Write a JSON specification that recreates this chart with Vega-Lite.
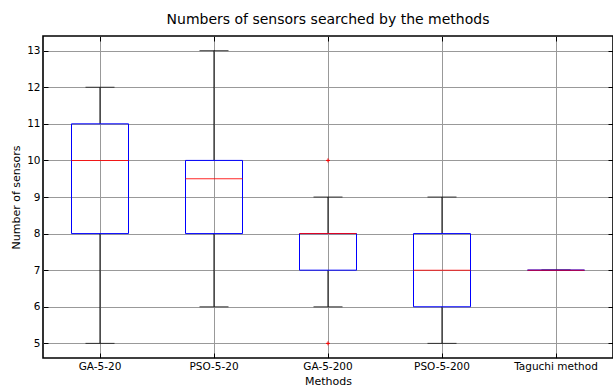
{
  "$schema": "https://vega.github.io/schema/vega-lite/v6.json",
  "width": 570,
  "height": 322,
  "autosize": {"type": "none"},
  "padding": {"left": 43, "top": 36, "right": 0, "bottom": 31},
  "background": "white",
  "title": {"text": "Numbers of sensors searched by the methods", "fontSize": 14, "fontWeight": "normal", "font": "DejaVu Sans", "color": "black", "offset": 9},
  "config": {
    "font": "DejaVu Sans",
    "view": {"stroke": "black", "strokeWidth": 1.6},
    "axis": {"labelFont": "DejaVu Sans", "titleFont": "DejaVu Sans", "labelColor": "black", "titleColor": "black", "labelFontSize": 10.5, "titleFontSize": 11, "titleFontWeight": "normal", "gridColor": "#999999", "gridOpacity": 1, "gridWidth": 1, "tickColor": "black", "domain": false}
  },
  "data": {"values": [
    {"method": "GA-5-20", "lower": 5, "q1": 8, "median": 10, "q3": 11, "upper": 12},
    {"method": "PSO-5-20", "lower": 6, "q1": 8, "median": 9.5, "q3": 10, "upper": 13},
    {"method": "GA-5-200", "lower": 6, "q1": 7, "median": 8, "q3": 8, "upper": 9},
    {"method": "PSO-5-200", "lower": 5, "q1": 6, "median": 7, "q3": 8, "upper": 9},
    {"method": "Taguchi method", "lower": 7, "q1": 7, "median": 7, "q3": 7, "upper": 7}
  ]},
  "layer": [
    {
      "mark": {"type": "rule", "color": "black", "strokeWidth": 1},
      "encoding": {
        "x": {"field": "method", "type": "nominal", "sort": null,
          "scale": {"paddingInner": 0, "paddingOuter": 0},
          "axis": {"title": "Methods", "labelAngle": 0, "bandPosition": 0.5, "grid": true, "tickSize": -5, "labelPadding": 8, "titlePadding": 4}},
        "y": {"field": "lower", "type": "quantitative",
          "scale": {"domain": [4.6, 13.4], "nice": false, "zero": false},
          "axis": {"title": "Number of sensors", "values": [5, 6, 7, 8, 9, 10, 11, 12, 13], "grid": true, "tickSize": -5, "labelPadding": 8, "titlePadding": 5}},
        "y2": {"field": "q1"}
      }
    },
    {
      "mark": {"type": "rule", "color": "black", "strokeWidth": 1},
      "encoding": {
        "x": {"field": "method", "type": "nominal", "sort": null,
          "axis": {"orient": "top", "labels": false, "title": null, "grid": false, "tickSize": -5, "bandPosition": 0.5}},
        "y": {"field": "q3", "type": "quantitative",
          "axis": {"orient": "right", "labels": false, "title": null, "grid": false, "tickSize": -5, "values": [5, 6, 7, 8, 9, 10, 11, 12, 13]}},
        "y2": {"field": "upper"}
      }
    },
    {
      "mark": {"type": "tick", "color": "black", "size": 29, "thickness": 1, "orient": "horizontal"},
      "encoding": {
        "x": {"field": "method", "type": "nominal", "sort": null, "axis": null},
        "y": {"field": "lower", "type": "quantitative", "axis": null}}
    },
    {
      "mark": {"type": "tick", "color": "black", "size": 29, "thickness": 1, "orient": "horizontal"},
      "encoding": {
        "x": {"field": "method", "type": "nominal", "sort": null, "axis": null},
        "y": {"field": "upper", "type": "quantitative", "axis": null}}
    },
    {
      "mark": {"type": "bar", "fill": "transparent", "stroke": "#0000ff", "strokeWidth": 1, "width": {"band": 0.5}},
      "encoding": {
        "x": {"field": "method", "type": "nominal", "sort": null, "axis": null},
        "y": {"field": "q1", "type": "quantitative", "axis": null}, "y2": {"field": "q3"}}
    },
    {
      "mark": {"type": "tick", "color": "#ff0000", "size": 57, "thickness": 1, "orient": "horizontal", "opacity": 0.85},
      "encoding": {
        "x": {"field": "method", "type": "nominal", "sort": null, "axis": null},
        "y": {"field": "median", "type": "quantitative", "axis": null}}
    },
    {
      "data": {"values": [
        {"method": "GA-5-200", "value": 10},
        {"method": "GA-5-200", "value": 5}
      ]},
      "mark": {"type": "point", "shape": "M-1,0L1,0M0,-1L0,1", "filled": false, "color": "#ff0000", "size": 16, "strokeWidth": 1, "opacity": 1},
      "encoding": {
        "x": {"field": "method", "type": "nominal", "sort": null, "axis": null},
        "y": {"field": "value", "type": "quantitative", "axis": null}}
    }
  ],
  "resolve": {"axis": {"x": "independent", "y": "independent"}}
}
